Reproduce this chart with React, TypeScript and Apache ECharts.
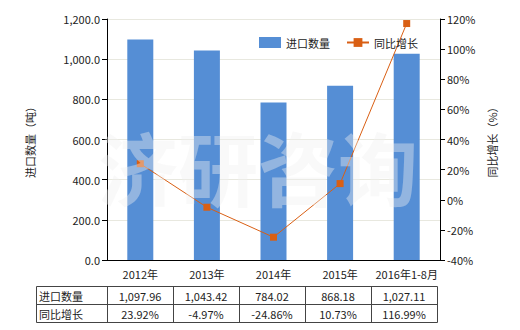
import React, { useEffect, useRef } from "react";
import * as echarts from "echarts";

const categories = ["2012年", "2013年", "2014年", "2015年", "2016年1-8月"];
const importQty = [1097.96, 1043.42, 784.02, 868.18, 1027.11];
const yoyGrowth = [23.92, -4.97, -24.86, 10.73, 116.99];
const seriesNames = ["进口数量", "同比增长"];
const leftTicks = { min: 0, max: 1200, interval: 200 };
const rightTicks = { min: -40, max: 120, interval: 20 };

const FONT = "'Noto Sans CJK SC', 'Noto Sans', sans-serif";
const TEXT = "#222";

export default function App() {
  const ref = useRef<HTMLDivElement>(null);
  useEffect(() => {
    if (!ref.current) return;
    const chart = echarts.init(ref.current, undefined, { renderer: "svg" });

    const fmtQty = (v: number) =>
      v.toLocaleString("en-US", { minimumFractionDigits: 2, maximumFractionDigits: 2 });
    const fmtPct = (v: number) => v.toFixed(2) + "%";

    // table graphics
    const tLeft = 36;
    const firstColRight = 107;
    const colW = 66;
    const tTop = 286;
    const rowH = 18;
    const tRight = firstColRight + colW * categories.length;
    const tBottom = tTop + rowH * 2;
    const lineStyle = { stroke: "#444", lineWidth: 1 };
    const g: any[] = [];
    g.push({
      type: "rect",
      shape: { x: tLeft + 0.5, y: tTop + 0.5, width: tRight - tLeft, height: rowH * 2 },
      style: { fill: "none", stroke: "#444", lineWidth: 1 },
    });
    g.push({
      type: "line",
      shape: { x1: tLeft, y1: tTop + rowH + 0.5, x2: tRight, y2: tTop + rowH + 0.5 },
      style: lineStyle,
    });
    for (let i = 0; i < categories.length; i++) {
      const x = firstColRight + colW * i + 0.5;
      g.push({ type: "line", shape: { x1: x, y1: tTop, x2: x, y2: tBottom }, style: lineStyle });
    }
    const rows = [importQty.map(fmtQty), yoyGrowth.map(fmtPct)];
    rows.forEach((row, r) => {
      const cy = tTop + rowH * r + rowH / 2 + 1;
      g.push({
        type: "text",
        x: tLeft + 3,
        y: cy,
        style: { text: seriesNames[r], fill: TEXT, font: `11px ${FONT}`, textAlign: "left", textVerticalAlign: "middle" },
      });
      row.forEach((txt, i) => {
        g.push({
          type: "text",
          x: firstColRight + colW * i + colW / 2,
          y: cy,
          style: { text: txt, fill: TEXT, font: `11px ${FONT}`, textAlign: "center", textVerticalAlign: "middle" },
        });
      });
    });
    // watermark
    g.push({
      type: "text",
      x: 258,
      y: 165,
      z: 100,
      silent: true,
      style: {
        text: "济研咨询",
        fill: "rgba(240,240,240,0.4)",
        font: `bold 80px ${FONT}`,
        textAlign: "center",
        textVerticalAlign: "middle",
      },
    });

    chart.setOption({
      animation: false,
      backgroundColor: "#fff",
      textStyle: { fontFamily: FONT },
      grid: { left: 107, right: 80, top: 19, bottom: 70, containLabel: false },
      legend: {
        left: 254,
        top: 32,
        itemWidth: 22,
        itemHeight: 11,
        itemGap: 16,
        textStyle: { fontSize: 11, color: TEXT, fontFamily: FONT },
        data: [
          { name: seriesNames[0], icon: "rect" },
          { name: seriesNames[1] },
        ],
      },
      xAxis: {
        type: "category",
        data: categories,
        axisLine: { lineStyle: { color: "#000" } },
        axisTick: { alignWithLabel: true, length: 4, lineStyle: { color: "#000" } },
        axisLabel: { color: TEXT, fontSize: 11, margin: 8, interval: 0 },
      },
      yAxis: [
        {
          type: "value",
          ...leftTicks,
          name: "进口数量（吨）",
          nameLocation: "middle",
          nameRotate: 90,
          nameGap: 72,
          nameTextStyle: { fontSize: 11, color: TEXT },
          axisLine: { show: true, lineStyle: { color: "#000" } },
          axisTick: { show: true, length: 5, lineStyle: { color: "#000" } },
          axisLabel: {
            color: TEXT,
            fontSize: 11,
            margin: 7,
            formatter: (v: number) =>
              v.toLocaleString("en-US", { minimumFractionDigits: 1, maximumFractionDigits: 1 }),
          },
          splitLine: { show: true, lineStyle: { color: "#e8e8df" } },
        },
        {
          type: "value",
          ...rightTicks,
          position: "right",
          name: "同比增长（%）",
          nameLocation: "middle",
          nameRotate: 90,
          nameGap: 46,
          nameTextStyle: { fontSize: 11, color: TEXT },
          axisLine: { show: true, lineStyle: { color: "#000" } },
          axisTick: { show: true, length: 5, lineStyle: { color: "#000" } },
          axisLabel: { color: TEXT, fontSize: 11, margin: 7, formatter: "{value}%" },
          splitLine: { show: false },
        },
      ],
      series: [
        {
          name: seriesNames[0],
          type: "bar",
          data: importQty,
          barWidth: 26,
          itemStyle: { color: "#558ed5" },
        },
        {
          name: seriesNames[1],
          type: "line",
          yAxisIndex: 1,
          data: yoyGrowth,
          symbol: "rect",
          symbolSize: 7,
          lineStyle: { color: "#d95f14", width: 1 },
          itemStyle: { color: "#d95f14" },
        },
      ],
      graphic: g,
    });
    return () => chart.dispose();
  }, []);
  return <div ref={ref} style={{ width: 520, height: 330, position: "absolute", left: 0, top: 0 }} />;
}
